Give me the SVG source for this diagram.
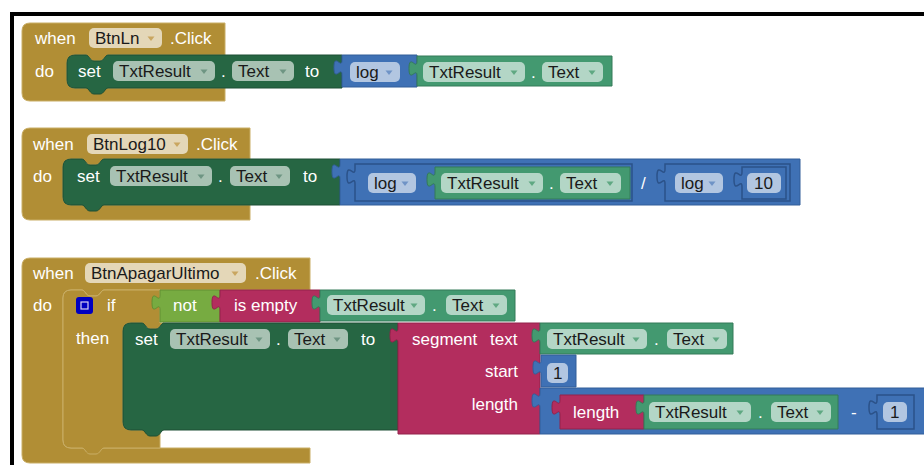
<svg xmlns="http://www.w3.org/2000/svg" width="924" height="465" viewBox="0 0 924 465">
<style>
text{font-family:"Liberation Sans",Arial,sans-serif;font-size:17px}
.w{fill:#fff}
.k{fill:#1a1a1a}
.gold{fill:#B18E35;stroke:#C9AE66;stroke-width:1}
.dg{fill:#266643;stroke:#1d4f34;stroke-width:1}
.gg{fill:#439970;stroke:#347a58;stroke-width:1}
.bl{fill:#3F71B5;stroke:#335f99;stroke-width:1}
.bln{fill:#3F71B5;stroke:#2b5289;stroke-width:1.5}
.mg{fill:#B32D5E;stroke:#93224b;stroke-width:1}
.lg{fill:#77AB41;stroke:#628f33;stroke-width:1}
.f{fill:#fff;fill-opacity:.6}
.ft{fill:#fff;fill-opacity:.65}
.ag{fill:#C9A660}
.adg{fill:#6e9583}
.agg{fill:#5fa882}
.abl{fill:#6f93c6}
</style>
<defs>
<path id="arr" d="M-3.5,-2 L3.5,-2 L0,2.5 Z"/>
</defs>
<rect x="10" y="12" width="914" height="4" fill="#000"/>
<rect x="10" y="12" width="4" height="453" fill="#000"/>

<!-- Event 1 -->
<g id="event-btnln">
<path class="gold" d="M22,31 Q22,23 30,23 H225 V55 H108 c-3,0 -4,6 -8,6 h-6 c-4,0 -5,-6 -8,-6 H75 Q67,55 67,63 V80 Q67,88 75,88 H225 V101 H30 Q22,101 22,93 Z"/>
<text class="w" x="35" y="44">when</text>
<rect class="ft" x="89" y="28" width="73" height="20" rx="5"/>
<text class="k" x="95" y="44">BtnLn</text>
<use href="#arr" x="151" y="38.5" class="ag"/>
<text class="w" x="170" y="44">.Click</text>
<text class="w" x="35" y="77">do</text>
</g>
<g id="set-1">
<path class="dg" d="M67,63 Q67,55 75,55 H86 c3,0 4,6 8,6 h6 c4,0 5,-6 8,-6 H342 V88 H108 c-3,0 -4,6 -8,6 h-6 c-4,0 -5,-6 -8,-6 H75 Q67,88 67,80 Z"/>
<text class="w" x="78" y="77">set</text>
<rect class="f" x="113" y="61" width="102" height="20" rx="5"/>
<text class="k" x="119" y="77">TxtResult</text>
<use href="#arr" x="204" y="71.5" class="adg"/>
<text class="w" x="221" y="77">.</text>
<rect class="f" x="232" y="61" width="62" height="20" rx="5"/>
<text class="k" x="238" y="77">Text</text>
<use href="#arr" x="283" y="71.5" class="adg"/>
<text class="w" x="305" y="77">to</text>
</g>
<g id="log-1">
<path class="bl" d="M417,55 H342 V60 c0,10 -8,-8 -8,7.5 s8,-2.5 8,7.5 V87 H417 Z"/>
<rect class="f" x="350" y="62" width="50" height="20" rx="5"/>
<text class="k" x="356" y="78">log</text>
<use href="#arr" x="389" y="72.5" class="abl"/>
</g>
<g id="get-1">
<path class="gg" d="M612,56 H417 V61 c0,10 -8,-8 -8,7.5 s8,-2.5 8,7.5 V86 H612 Z"/>
<rect class="f" x="423" y="62" width="102" height="20" rx="5"/>
<text class="k" x="429" y="78">TxtResult</text>
<use href="#arr" x="514" y="72.5" class="agg"/>
<text class="w" x="531" y="78">.</text>
<rect class="f" x="542" y="62" width="61" height="20" rx="5"/>
<text class="k" x="548" y="78">Text</text>
<use href="#arr" x="592" y="72.5" class="agg"/>
</g>

<!-- Event 2 -->
<g id="event-btnlog10">
<path class="gold" d="M22,136 Q22,128 30,128 H250 V159 H104 c-3,0 -4,6 -8,6 h-6 c-4,0 -5,-6 -8,-6 H71 Q63,159 63,167 V197 Q63,205 71,205 H250 V220 H30 Q22,220 22,212 Z"/>
<text class="w" x="33" y="150">when</text>
<rect class="ft" x="87" y="134" width="101" height="20" rx="5"/>
<text class="k" x="93" y="150">BtnLog10</text>
<use href="#arr" x="177" y="144.5" class="ag"/>
<text class="w" x="196" y="150">.Click</text>
<text class="w" x="33" y="182">do</text>
</g>
<g id="set-2">
<path class="dg" d="M63,167 Q63,159 71,159 H82 c3,0 4,6 8,6 h6 c4,0 5,-6 8,-6 H340 V205 H104 c-3,0 -4,6 -8,6 h-6 c-4,0 -5,-6 -8,-6 H71 Q63,205 63,197 Z"/>
<text class="w" x="77" y="182">set</text>
<rect class="f" x="110" y="166" width="102" height="20" rx="5"/>
<text class="k" x="116" y="182">TxtResult</text>
<use href="#arr" x="201" y="176.5" class="adg"/>
<text class="w" x="218" y="182">.</text>
<rect class="f" x="230" y="166" width="60" height="20" rx="5"/>
<text class="k" x="236" y="182">Text</text>
<use href="#arr" x="279" y="176.5" class="adg"/>
<text class="w" x="303" y="182">to</text>
</g>
<g id="divide">
<path class="bl" d="M800,159 H340 V164 c0,10 -8,-8 -8,7.5 s8,-2.5 8,7.5 V205 H800 Z"/>
<text class="w" x="641" y="189">/</text>
</g>
<g id="log-2a">
<path class="bln" d="M632,164 H355 V169 c0,10 -8,-8 -8,7.5 s8,-2.5 8,7.5 V201 H632 Z"/>
<rect class="f" x="368" y="173" width="48" height="20" rx="5"/>
<text class="k" x="374" y="189">log</text>
<use href="#arr" x="405" y="183.5" class="abl"/>
</g>
<g id="get-2">
<path class="gg" d="M630,167 H435 V172 c0,10 -8,-8 -8,7.5 s8,-2.5 8,7.5 V199 H630 Z"/>
<rect class="f" x="441" y="173" width="102" height="20" rx="5"/>
<text class="k" x="447" y="189">TxtResult</text>
<use href="#arr" x="532" y="183.5" class="agg"/>
<text class="w" x="549" y="189">.</text>
<rect class="f" x="560" y="173" width="61" height="20" rx="5"/>
<text class="k" x="566" y="189">Text</text>
<use href="#arr" x="610" y="183.5" class="agg"/>
</g>
<g id="log-2b">
<path class="bln" d="M790,164 H665 V169 c0,10 -8,-8 -8,7.5 s8,-2.5 8,7.5 V201 H790 Z"/>
<rect class="f" x="675" y="173" width="48" height="20" rx="5"/>
<text class="k" x="681" y="189">log</text>
<use href="#arr" x="712" y="183.5" class="abl"/>
</g>
<g id="num-10">
<path class="bln" d="M786,167 H742 V172 c0,10 -8,-8 -8,7.5 s8,-2.5 8,7.5 V199 H786 Z"/>
<rect class="f" x="747" y="173" width="34" height="20" rx="5"/>
<text class="k" x="754" y="189">10</text>
</g>

<!-- Event 3 -->
<g id="event-btnapagar">
<path class="gold" d="M22,266 Q22,258 30,258 H310 V290 H104 c-3,0 -4,6 -8,6 h-6 c-4,0 -5,-6 -8,-6 H71 Q63,290 63,298 V440 Q63,448 71,448 H310 V463 H30 Q22,463 22,455 Z"/>
<text class="w" x="33" y="279">when</text>
<rect class="ft" x="85" y="263" width="161" height="20" rx="5"/>
<text class="k" x="91" y="279">BtnApagarUltimo</text>
<use href="#arr" x="235" y="273.5" class="ag"/>
<text class="w" x="255" y="279">.Click</text>
<text class="w" x="33" y="311">do</text>
</g>
<g id="if">
<path class="gold" d="M63,298 Q63,290 71,290 H82 c3,0 4,6 8,6 h6 c4,0 5,-6 8,-6 H160 V323 H164 c-3,0 -4,6 -8,6 h-6 c-4,0 -5,-6 -8,-6 H131 Q123,323 123,331 V422 Q123,430 131,430 H160 V448 H104 c-3,0 -4,6 -8,6 h-6 c-4,0 -5,-6 -8,-6 H71 Q63,448 63,440 Z"/>
<rect x="76" y="297" width="17" height="17" rx="3" fill="#0000C0"/>
<rect x="81" y="302" width="7" height="7" fill="none" stroke="#d8d0f0" stroke-width="1.2"/>
<text class="w" x="107" y="311">if</text>
<text class="w" x="76" y="344">then</text>
</g>
<g id="not">
<path class="lg" d="M220,290 H160 V295 c0,10 -8,-8 -8,7.5 s8,-2.5 8,7.5 V322 H220 Z"/>
<text class="w" x="173" y="311">not</text>
</g>
<g id="is-empty">
<path class="mg" d="M320,290 H220 V295 c0,10 -8,-8 -8,7.5 s8,-2.5 8,7.5 V322 H320 Z"/>
<text class="w" x="234" y="311">is empty</text>
</g>
<g id="get-3a">
<path class="gg" d="M515,290 H320 V295 c0,10 -8,-8 -8,7.5 s8,-2.5 8,7.5 V321 H515 Z"/>
<rect class="f" x="327" y="295" width="98" height="20" rx="5"/>
<text class="k" x="333" y="311">TxtResult</text>
<use href="#arr" x="414" y="305.5" class="agg"/>
<text class="w" x="432" y="311">.</text>
<rect class="f" x="446" y="295" width="61" height="20" rx="5"/>
<text class="k" x="452" y="311">Text</text>
<use href="#arr" x="496" y="305.5" class="agg"/>
</g>
<g id="set-3">
<path class="dg" d="M123,331 Q123,323 131,323 H142 c3,0 4,6 8,6 h6 c4,0 5,-6 8,-6 H398 V430 H164 c-3,0 -4,6 -8,6 h-6 c-4,0 -5,-6 -8,-6 H131 Q123,430 123,422 Z"/>
<text class="w" x="135" y="345">set</text>
<rect class="f" x="170" y="329" width="100" height="20" rx="5"/>
<text class="k" x="176" y="345">TxtResult</text>
<use href="#arr" x="259" y="339.5" class="adg"/>
<text class="w" x="276" y="345">.</text>
<rect class="f" x="288" y="329" width="60" height="20" rx="5"/>
<text class="k" x="294" y="345">Text</text>
<use href="#arr" x="337" y="339.5" class="adg"/>
<text class="w" x="361" y="345">to</text>
</g>
<g id="segment">
<path class="mg" d="M540,323 H398 V328 c0,10 -8,-8 -8,7.5 s8,-2.5 8,7.5 V434 H540 Z"/>
<text class="w" y="345"><tspan x="412">segment</tspan><tspan x="490">text</tspan></text>
<text class="w" x="518" y="377" text-anchor="end">start</text>
<text class="w" x="518" y="410" text-anchor="end">length</text>
</g>
<g id="get-3b">
<path class="gg" d="M733,323 H540 V328 c0,10 -8,-8 -8,7.5 s8,-2.5 8,7.5 V354 H733 Z"/>
<rect class="f" x="547" y="329" width="100" height="20" rx="5"/>
<text class="k" x="553" y="345">TxtResult</text>
<use href="#arr" x="636" y="339.5" class="agg"/>
<text class="w" x="654" y="345">.</text>
<rect class="f" x="667" y="329" width="60" height="20" rx="5"/>
<text class="k" x="673" y="345">Text</text>
<use href="#arr" x="716" y="339.5" class="agg"/>
</g>
<g id="num-start">
<path class="bl" d="M576,355 H541 V360 c0,10 -8,-8 -8,7.5 s8,-2.5 8,7.5 V387 H576 Z"/>
<rect class="f" x="547" y="363" width="21" height="20" rx="5"/>
<text class="k" x="553" y="379">1</text>
</g>
<g id="subtract">
<path class="bl" d="M930,388 H540 V393 c0,10 -8,-8 -8,7.5 s8,-2.5 8,7.5 V434 H930 Z"/>
<text class="w" x="851" y="418">-</text>
</g>
<g id="length">
<path class="mg" d="M644,395 H560 V400 c0,10 -8,-8 -8,7.5 s8,-2.5 8,7.5 V429 H644 Z"/>
<text class="w" x="573" y="418">length</text>
</g>
<g id="get-3c">
<path class="gg" d="M838,395 H644 V400 c0,10 -8,-8 -8,7.5 s8,-2.5 8,7.5 V429 H838 Z"/>
<rect class="f" x="649" y="402" width="102" height="20" rx="5"/>
<text class="k" x="655" y="418">TxtResult</text>
<use href="#arr" x="740" y="412.5" class="agg"/>
<text class="w" x="758" y="418">.</text>
<rect class="f" x="771" y="402" width="60" height="20" rx="5"/>
<text class="k" x="777" y="418">Text</text>
<use href="#arr" x="820" y="412.5" class="agg"/>
</g>
<g id="num-1">
<path class="bln" d="M914,395 H877 V400 c0,10 -8,-8 -8,7.5 s8,-2.5 8,7.5 V429 H914 Z"/>
<rect class="f" x="883" y="402" width="24" height="20" rx="5"/>
<text class="k" x="890" y="418">1</text>
</g>
<g id="connectors"></g>
</svg>
